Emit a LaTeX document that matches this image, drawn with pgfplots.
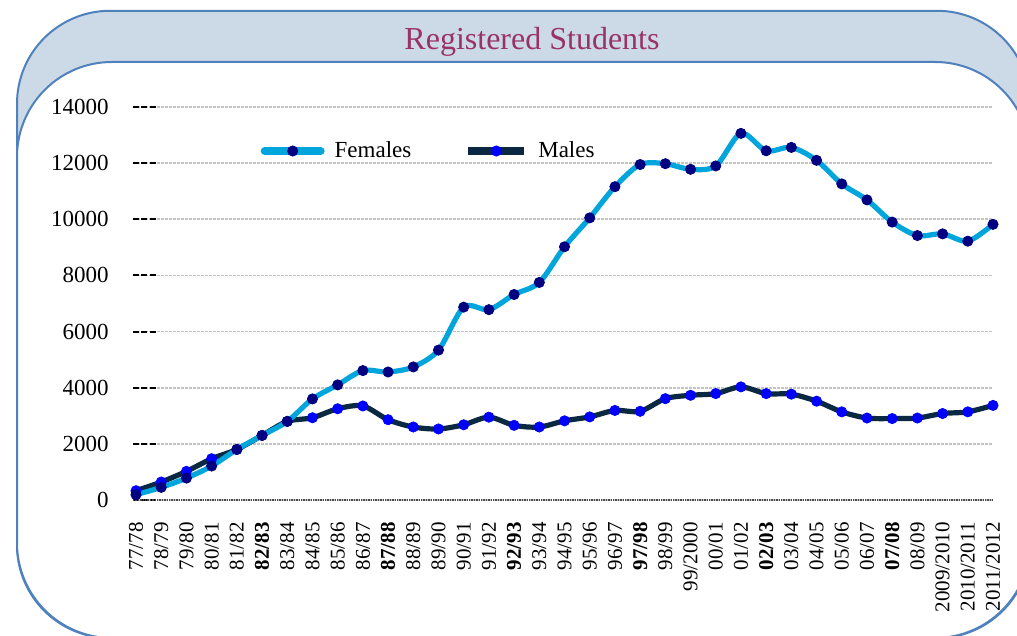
\documentclass[border=0pt]{standalone}
\usepackage{fontspec}
\setmainfont{Liberation Serif}
\usepackage{pgfplots}
\pgfplotsset{compat=1.18}
\definecolor{frameblue}{RGB}{79,129,189}
\definecolor{bandfill}{RGB}{204,217,230}
\definecolor{titlecol}{RGB}{153,51,102}
\definecolor{femline}{RGB}{0,165,220}
\definecolor{femmark}{RGB}{0,0,128}
\definecolor{maleline}{RGB}{10,40,65}
\definecolor{malemark}{RGB}{0,0,255}
\definecolor{gridgray}{RGB}{196,196,196}

\begin{document}
\begin{tikzpicture}
% 1 px of the reference = 0.5pt
\useasboundingbox (0pt,0pt) rectangle (508.5pt,318pt);
% frame with title band
\begin{scope}
\clip (0pt,0pt) rectangle (508.5pt,318pt);
\draw[frameblue, line width=1pt, fill=bandfill, rounded corners=46.5pt] (8.5pt,-1pt) rectangle (515pt,312.6pt);
\draw[frameblue, line width=1pt, fill=white, rounded corners=47.5pt] (8.5pt,-1pt) rectangle (515pt,287pt);
\end{scope}
\node[text=titlecol, font=\fontsize{16}{19}\selectfont] at (266pt,297pt) {Registered Students};

\begin{axis}[
    at={(66.5pt,68pt)}, anchor=south west,
    scale only axis, width=430pt, height=196.5pt,
    xmin=-0.12, xmax=34, ymin=0, ymax=14000,
    clip=false,
    axis line style={draw=none},
    scaled y ticks=false,
    xtick={0,...,34},
    xticklabels={77/78,78/79,79/80,80/81,81/82,\textbf{82/83},83/84,84/85,85/86,86/87,\textbf{87/88},88/89,89/90,90/91,91/92,\textbf{92/93},93/94,94/95,95/96,96/97,\textbf{97/98},98/99,99/2000,00/01,01/02,\textbf{02/03},03/04,04/05,05/06,06/07,\textbf{07/08},08/09,2009/2010,2010/2011,2011/2012},
    x tick style={draw=none},
    xtick pos=bottom, ytick pos=left,
    ytick={0,2000,4000,6000,8000,10000,12000,14000},
    yticklabels={0,2000,4000,6000,8000,10000,12000,14000},
    ymajorgrids,
    major grid style={gridgray, line width=0.8pt, dash pattern=on 1.5pt off 0.5pt},
    y tick style={black, line width=1pt, dash pattern=on 3pt off 1.2pt},
    major tick length=12pt, tick align=inside,
    yticklabel style={font=\fontsize{11.5}{13}\selectfont, inner sep=0pt, anchor=east, xshift=-12pt},
    xticklabel style={font=\fontsize{10.5}{12}\selectfont, inner sep=0pt, yshift=-11pt, rotate=90, anchor=east},
    legend columns=2, reverse legend,
    legend style={at={(0.148,0.888)}, anchor=west, draw=none, fill=none, inner sep=0pt,
        font=\fontsize{11.5}{13}\selectfont, nodes={inner sep=0pt},
        /tikz/every odd column/.append style={column sep=5pt},
        /tikz/every even column/.append style={column sep=26.5pt}},
    legend image code/.code={\draw[mark repeat=2, mark phase=2, #1, line width=4pt] plot coordinates {(0pt,0pt) (14pt,0pt) (28pt,0pt)};},
]
\draw[black!70, line width=1pt, dash pattern=on 0.7pt off 0.5pt] (axis cs:-0.12,0) -- (axis cs:34,0);

\addplot[maleline, line width=2.6pt, smooth, tension=0.5, mark=*, mark size=2.55pt,
    mark options={draw=malemark, fill=malemark, line width=0.4pt, solid}] coordinates {
(0,330) (1,640) (2,1020) (3,1470) (4,1800) (5,2300) (6,2800) (7,2930) (8,3250) (9,3350)
(10,2860) (11,2600) (12,2530) (13,2680) (14,2950) (15,2660) (16,2600) (17,2820) (18,2960) (19,3190)
(20,3160) (21,3610) (22,3730) (23,3790) (24,4030) (25,3790) (26,3770) (27,3520) (28,3140) (29,2920)
(30,2900) (31,2920) (32,3080) (33,3140) (34,3370)};
\addlegendentry{Males}

\addplot[femline, line width=2.6pt, line cap=round, smooth, tension=0.5, mark=*, mark size=2.55pt,
    mark options={draw=femmark, fill=femmark, line width=0.4pt, solid}] coordinates {
(0,190) (1,450) (2,780) (3,1210) (4,1800) (5,2300) (6,2800) (7,3600) (8,4100) (9,4610)
(10,4560) (11,4740) (12,5340) (13,6870) (14,6780) (15,7320) (16,7750) (17,9020) (18,10050) (19,11160)
(20,11950) (21,11980) (22,11780) (23,11900) (24,13060) (25,12440) (26,12560) (27,12100) (28,11260) (29,10690)
(30,9900) (31,9420) (32,9480) (33,9220) (34,9820)};
\addlegendentry{Females}
\end{axis}
\end{tikzpicture}
\end{document}
